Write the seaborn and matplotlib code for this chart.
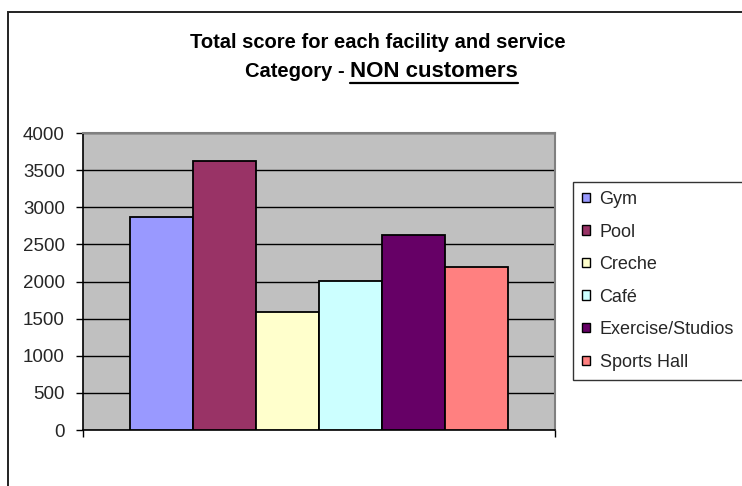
import matplotlib
matplotlib.use("Agg")
import matplotlib.pyplot as plt
import seaborn as sns
import pandas as pd
from matplotlib.patches import Rectangle
from matplotlib.lines import Line2D

facilities = ["Gym", "Pool", "Creche", "Café", "Exercise/Studios", "Sports Hall"]
scores = [2875, 3625, 1590, 2010, 2620, 2200]
colors = ["#9999FF", "#993366", "#FFFFCC", "#CCFFFF", "#660066", "#FF8080"]
yticks = [0, 500, 1000, 1500, 2000, 2500, 3000, 3500, 4000]

sns.set_theme(style="white")
plt.rcParams["font.family"] = ["Liberation Sans", "DejaVu Sans"]

df = pd.DataFrame({"group": ["NON"] * len(facilities), "facility": facilities, "score": scores})

W, H = 742, 486
fig = plt.figure(figsize=(W / 100, H / 100), dpi=100)
ax = fig.add_axes([83 / W, 1 - 430 / H, (555 - 83) / W, (430 - 133) / H])

sns.barplot(data=df, x="group", y="score", hue="facility", hue_order=facilities,
            palette=colors, width=0.8, edgecolor="black", linewidth=1.3,
            saturation=1, ax=ax, legend=True, zorder=3)

ax.set_facecolor("#C0C0C0")
ax.set_ylim(0, 4000)
ax.set_xlim(-0.5, 0.5)
ax.set_yticks(yticks)
ax.set_yticklabels([str(v) for v in yticks], fontsize=13.5)
ax.yaxis.grid(True, color="black", linewidth=1.0, zorder=1)
ax.set_axisbelow(True)
ax.set_xticks([])
ax.set_xticks([-0.5, 0.5], minor=True)
ax.tick_params(axis="x", which="minor", direction="out", length=5, width=1, color="black", bottom=True)
ax.tick_params(axis="y", direction="out", length=5, width=1, color="black", left=True, pad=8)
ax.set_xlabel("")
ax.set_ylabel("")
for s in ["left", "bottom"]:
    ax.spines[s].set_color("black")
    ax.spines[s].set_linewidth(1.2)
for s in ["top", "right"]:
    ax.spines[s].set_color("#808080")
    ax.spines[s].set_linewidth(1.5)

# legend
handles, labels = ax.get_legend_handles_labels()
ax.get_legend().remove()
leg = fig.legend(handles, labels, loc="upper left",
                 bbox_to_anchor=(573 / W, 1 - 379 / H, (760 - 573) / W, (379 - 182) / H),
                 bbox_transform=fig.transFigure, mode="expand",
                 fontsize=13, frameon=True, fancybox=False, edgecolor="black",
                 handlelength=0.42, handleheight=0.42, handletextpad=0.55,
                 labelspacing=0.86, borderpad=0.5, borderaxespad=0)
leg.get_frame().set_linewidth(1.0)
for h in leg.legend_handles:
    h.set_edgecolor("black")
    h.set_linewidth(1.0)

# outer chart border
fig.patches.append(Rectangle((8 / W, -0.1), 1.2, 1 - 12 / H + 0.1, transform=fig.transFigure,
                             fill=False, edgecolor="#222222", linewidth=1.4))

# title
fig.text(0.5 * (188 + 568) / W, 1 - 42 / H, "Total score for each facility and service",
         ha="center", va="center", fontsize=14.5, fontweight="bold", color="black")
t1 = fig.text(345 / W, 1 - 71 / H, "Category -", ha="right", va="center",
              fontsize=14.5, fontweight="bold", color="black")
t2 = fig.text(350 / W, 1 - 71 / H, "NON customers", ha="left", va="center",
              fontsize=16, fontweight="bold", color="black")

fig.canvas.draw()
bb = t2.get_window_extent(renderer=fig.canvas.get_renderer())
inv = fig.transFigure.inverted()
(x0, y0), (x1, y1) = inv.transform([[bb.x0, bb.y0], [bb.x1, bb.y0]])
fig.add_artist(Line2D([x0, x1], [y0 - 1 / H, y0 - 1 / H], transform=fig.transFigure,
                      color="black", linewidth=1.6))

fig.savefig("out.png", dpi=100)
